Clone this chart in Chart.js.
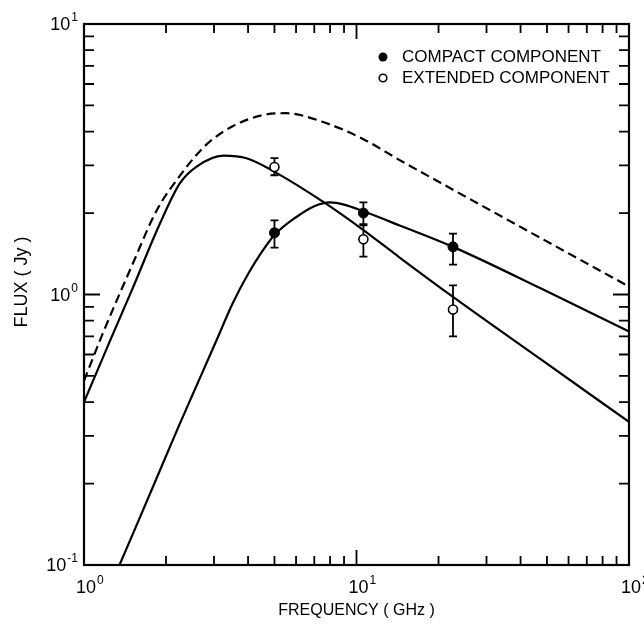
<!DOCTYPE html>
<html>
<head>
<meta charset="utf-8">
<script src="https://cdn.jsdelivr.net/npm/chart.js@4.4.0/dist/chart.umd.min.js"></script>
<style>
  body { margin: 0; background: #fff; }
  canvas { display: block; }
</style>
</head>
<body>
<canvas id="chart" width="644" height="627"></canvas>
<script>
// values (GHz, Jy)
const compactCurveFreq = [1.35, 1.6, 2.0, 2.25, 2.5, 3.07, 3.5, 4.0, 4.5, 5.0, 6.0, 7.0, 8.0, 9.0, 10.6, 14.4, 22.6, 47.8, 100];
const compactCurveFlux = [0.10, 0.149, 0.253, 0.334, 0.425, 0.68, 0.92, 1.19, 1.44, 1.66, 1.93, 2.12, 2.19, 2.15, 2.03, 1.80, 1.50, 1.05, 0.73];

const extendedCurveFreq = [1.0, 1.25, 1.5, 1.9, 2.25, 2.59, 3.25, 3.95, 5.1, 7.65, 10.6, 14.4, 22.6, 47.8, 100];
const extendedCurveFlux = [0.40, 0.68, 1.04, 1.83, 2.58, 2.97, 3.26, 3.19, 2.81, 2.18, 1.73, 1.37, 0.98, 0.573, 0.338];

const totalCurveFreq = [1.0, 1.16, 1.5, 1.85, 2.25, 2.6, 2.9, 3.5, 4.5, 5.5, 7.5, 10.6, 14.4, 22.6, 47.8, 100];
const totalCurveFlux = [0.48, 0.70, 1.28, 2.05, 2.75, 3.3, 3.68, 4.18, 4.6, 4.68, 4.35, 3.75, 3.14, 2.44, 1.61, 1.07];

const pointFreq = [5.0, 10.6, 22.6];
const compactFlux = [1.69, 2.0, 1.5];
const compactLow = [1.49, 1.80, 1.29];
const compactHigh = [1.88, 2.19, 1.68];
const extendedFlux = [2.96, 1.60, 0.88];
const extendedLow = [2.76, 1.38, 0.70];
const extendedHigh = [3.19, 1.82, 1.08];

const xTicks = [1, 10, 100];
const xTickExp = ['0', '1', '2'];
const yTicks = [0.1, 1, 10];
const yTickExp = ['-1', '0', '1'];
const minorSteps = [2, 3, 4, 5, 6, 7, 8, 9];

const legendLabels = ['COMPACT COMPONENT', 'EXTENDED COMPONENT'];

function pts(xs, ys) {
    return xs.map((x, i) => ({x: x, y: ys[i]}));
}

const FONT = '"Liberation Sans", Arial, sans-serif';

function minorList(decades) {
    let out = [];
    for (let i = 0; i < decades.length - 1; i++) {
        minorSteps.forEach(m => out.push(decades[i] * m));
    }
    return out;
}

function power(ctx, base, exp, x, y, align) {
    // "10" with a raised exponent
    ctx.font = '18px ' + FONT;
    const wb = ctx.measureText(base).width;
    ctx.font = '12px ' + FONT;
    const we = ctx.measureText(exp).width;
    let x0 = x;
    if (align === 'center') x0 = x - wb / 2;
    if (align === 'right') x0 = x - wb - we - 1;
    ctx.textAlign = 'left';
    ctx.textBaseline = 'alphabetic';
    ctx.font = '18px ' + FONT;
    ctx.fillText(base, x0, y);
    ctx.font = '12px ' + FONT;
    ctx.fillText(exp, x0 + wb + 1, y - 9);
}

const decorations = {
    id: 'decorations',
    beforeDatasetsDraw(chart) {
        const ctx = chart.ctx;
        const xs = chart.scales.x, ys = chart.scales.y;
        ctx.save();
        ctx.strokeStyle = '#000';
        ctx.lineWidth = 1.8;
        const bars = [[compactLow, compactHigh], [extendedLow, extendedHigh]];
        bars.forEach(([lo, hi]) => {
            pointFreq.forEach((f, i) => {
                const px = xs.getPixelForValue(f);
                const y1 = ys.getPixelForValue(lo[i]);
                const y2 = ys.getPixelForValue(hi[i]);
                ctx.beginPath();
                ctx.moveTo(px, y1); ctx.lineTo(px, y2);
                ctx.moveTo(px - 4, y1); ctx.lineTo(px + 4, y1);
                ctx.moveTo(px - 4, y2); ctx.lineTo(px + 4, y2);
                ctx.stroke();
            });
        });
        ctx.restore();
    },
    afterDraw(chart) {
        const ctx = chart.ctx;
        const a = chart.chartArea;
        const xs = chart.scales.x, ys = chart.scales.y;
        ctx.save();
        ctx.strokeStyle = '#000';
        ctx.fillStyle = '#000';

        // frame
        ctx.lineWidth = 2.2;
        ctx.strokeRect(a.left, a.top, a.right - a.left, a.bottom - a.top);

        // inward ticks on all four sides
        ctx.lineWidth = 1.8;
        ctx.beginPath();
        const xt = [...xTicks.map(v => [v, 15]), ...minorList(xTicks).map(v => [v, 9])];
        xt.forEach(([v, len]) => {
            const px = xs.getPixelForValue(v);
            if (px <= a.left + 1 || px >= a.right - 1) return;
            ctx.moveTo(px, a.bottom); ctx.lineTo(px, a.bottom - len);
            ctx.moveTo(px, a.top); ctx.lineTo(px, a.top + len);
        });
        const yt = [...yTicks.map(v => [v, 16]), ...minorList(yTicks).map(v => [v, 10])];
        yt.forEach(([v, len]) => {
            const py = ys.getPixelForValue(v);
            if (py <= a.top + 1 || py >= a.bottom - 1) return;
            ctx.moveTo(a.left, py); ctx.lineTo(a.left + len, py);
            ctx.moveTo(a.right, py); ctx.lineTo(a.right - len, py);
        });
        ctx.stroke();

        // tick labels
        xTicks.forEach((v, i) => {
            power(ctx, '10', xTickExp[i], xs.getPixelForValue(v) + 2, a.bottom + 28, 'center');
        });
        yTicks.forEach((v, i) => {
            power(ctx, '10', yTickExp[i], a.left - 6, ys.getPixelForValue(v) + 6, 'right');
        });

        // axis titles
        ctx.textAlign = 'center';
        ctx.textBaseline = 'middle';
        ctx.font = '16px ' + FONT;
        ctx.fillText('FREQUENCY ( GHz )', (a.left + a.right) / 2, 611);
        ctx.save();
        ctx.translate(22, 282);
        ctx.rotate(-Math.PI / 2);
        ctx.font = '18px ' + FONT;
        ctx.fillText('FLUX ( Jy )', 0, 0);
        ctx.restore();

        // legend
        ctx.font = '17px ' + FONT;
        ctx.textAlign = 'left';
        ctx.textBaseline = 'middle';
        ctx.beginPath();
        ctx.arc(383, 57, 4.5, 0, Math.PI * 2);
        ctx.fill();
        ctx.fillText(legendLabels[0], 402, 57);
        ctx.beginPath();
        ctx.lineWidth = 1.6;
        ctx.arc(383, 78, 3.8, 0, Math.PI * 2);
        ctx.stroke();
        ctx.fillText(legendLabels[1], 402, 78);
        ctx.restore();
    }
};

new Chart(document.getElementById('chart'), {
    type: 'scatter',
    data: {
        datasets: [
            {
                label: 'Compact',
                data: pts(pointFreq, compactFlux),
                pointRadius: 5,
                pointBackgroundColor: '#000',
                pointBorderColor: '#000',
                pointBorderWidth: 1
            },
            {
                label: 'Extended',
                data: pts(pointFreq, extendedFlux),
                pointRadius: 4.5,
                pointBackgroundColor: '#fff',
                pointBorderColor: '#000',
                pointBorderWidth: 1.6
            },
            {
                label: 'Compact model',
                data: pts(compactCurveFreq, compactCurveFlux),
                showLine: true,
                pointRadius: 0,
                borderColor: '#000',
                borderWidth: 2.2,
                cubicInterpolationMode: 'monotone'
            },
            {
                label: 'Extended model',
                data: pts(extendedCurveFreq, extendedCurveFlux),
                showLine: true,
                pointRadius: 0,
                borderColor: '#000',
                borderWidth: 2.2,
                cubicInterpolationMode: 'monotone'
            },
            {
                label: 'Total',
                data: pts(totalCurveFreq, totalCurveFlux),
                showLine: true,
                pointRadius: 0,
                borderColor: '#000',
                borderWidth: 2.2,
                borderDash: [9, 5],
                cubicInterpolationMode: 'monotone'
            }
        ]
    },
    options: {
        responsive: false,
        animation: false,
        devicePixelRatio: 1,
        layout: {padding: {left: 76, right: 15, top: 24, bottom: 54}},
        plugins: {legend: {display: false}, tooltip: {enabled: false}},
        scales: {
            x: {
                type: 'logarithmic', min: 1, max: 100,
                grid: {display: false}, border: {display: false},
                ticks: {display: false}
            },
            y: {
                type: 'logarithmic', min: 0.1, max: 10,
                grid: {display: false}, border: {display: false},
                ticks: {display: false}
            }
        }
    },
    plugins: [decorations]
});
</script>
</body>
</html>
